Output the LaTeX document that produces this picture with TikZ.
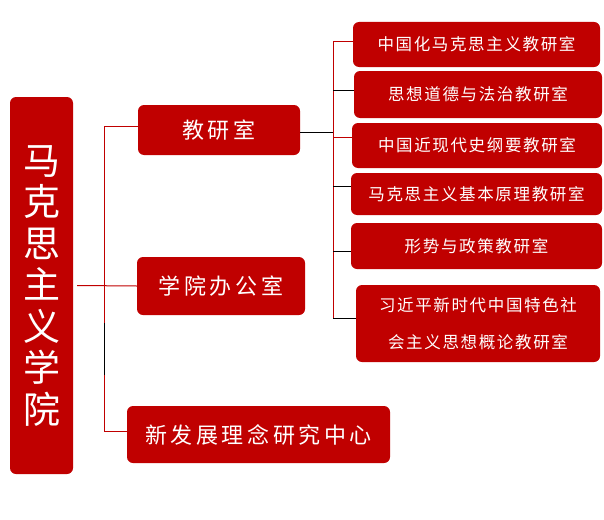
\documentclass[tikz,border=0pt]{standalone}
\usepackage{fontspec}
\newfontfamily\cjkA[LetterSpace=16]{Noto Sans CJK SC}
\newfontfamily\cjkB[LetterSpace=10]{Noto Sans CJK SC}
\newfontfamily\cjkC{Noto Sans CJK SC}
\definecolor{boxred}{HTML}{C00000}
\definecolor{linered}{HTML}{C00000}
\tikzset{
  box/.style={draw=none, fill=boxred, rounded corners=6pt, text=white, inner sep=0pt, align=center},
  bigbox/.style={box, font=\cjkA\fontsize{22}{26}\selectfont},
  smallbox/.style={box, font=\cjkB\fontsize{16.5}{37}\selectfont},
  redline/.style={draw=linered, line width=1pt},
  blackline/.style={draw=black, line width=1pt}
}
\begin{document}
\begin{tikzpicture}[x=1pt,y=-1pt]
\useasboundingbox (0,0) rectangle (604,519);
% main
\node[box, minimum width=63pt, minimum height=377pt, font=\cjkC\fontsize{37}{41.5}\selectfont] (main) at (41.5,285.5) {马\\克\\思\\主\\义\\学\\院};
% second level
\node[bigbox, minimum width=162pt, minimum height=50pt] (jys) at (219,130) {教研室};
\node[bigbox, minimum width=168pt, minimum height=58pt] (office) at (221,286) {学院办公室};
\node[bigbox, minimum width=263pt, minimum height=57pt] (xfz) at (258.5,434.5) {新发展理念研究中心};
% third level
\node[smallbox, minimum width=247pt, minimum height=45pt] (r1) at (476.5,44.5) {中国化马克思主义教研室};
\node[smallbox, minimum width=248pt, minimum height=47pt] (r2) at (478,94.5) {思想道德与法治教研室};
\node[smallbox, minimum width=250pt, minimum height=45pt] (r3) at (477,145.5) {中国近现代史纲要教研室};
\node[smallbox, minimum width=251pt, minimum height=42pt] (r4) at (476.5,194) {马克思主义基本原理教研室};
\node[smallbox, minimum width=251pt, minimum height=46pt] (r5) at (476.5,246) {形势与政策教研室};
\node[smallbox, minimum width=244pt, minimum height=77pt] (r6) at (478,323.5) {习近平新时代中国特色社\\会主义思想概论教研室};
% trunk coordinates
\coordinate (tA) at (104,126);
\coordinate (tB) at (104,431);
\coordinate (bk1) at (104,323);
\coordinate (bk2) at (104,375);
\coordinate (sA) at (333,42);
\coordinate (sB) at (333,318);
\coordinate (sJ) at (333,132);
% left connectors
\draw[redline] ([xshift=4pt]main.east) -- (office.west);
\draw[redline] (jys.west |- tA) -- (tA) -- (tB) -- (xfz.west |- tB);
\draw[blackline] (bk1) -- (bk2);
% right connectors
\draw[blackline] (jys.east |- sJ) -- (sJ);
\draw[redline] (sA) -- (sB);
\draw[redline] (sA) -- (r1.west |- sA);
\draw[blackline] ([yshift=4.5pt]sA |- r2.west) -- ([yshift=4.5pt]r2.west);
\draw[redline] ([yshift=8.5pt]sA |- r3.west) -- ([yshift=8.5pt]r3.west);
\draw[blackline] ([yshift=8pt]sA |- r4.west) -- ([yshift=8pt]r4.west);
\draw[blackline] ([yshift=-5pt]sA |- r5.west) -- ([yshift=-5pt]r5.west);
\draw[blackline] (sB) -- (r6.west |- sB);
\end{tikzpicture}
\end{document}
